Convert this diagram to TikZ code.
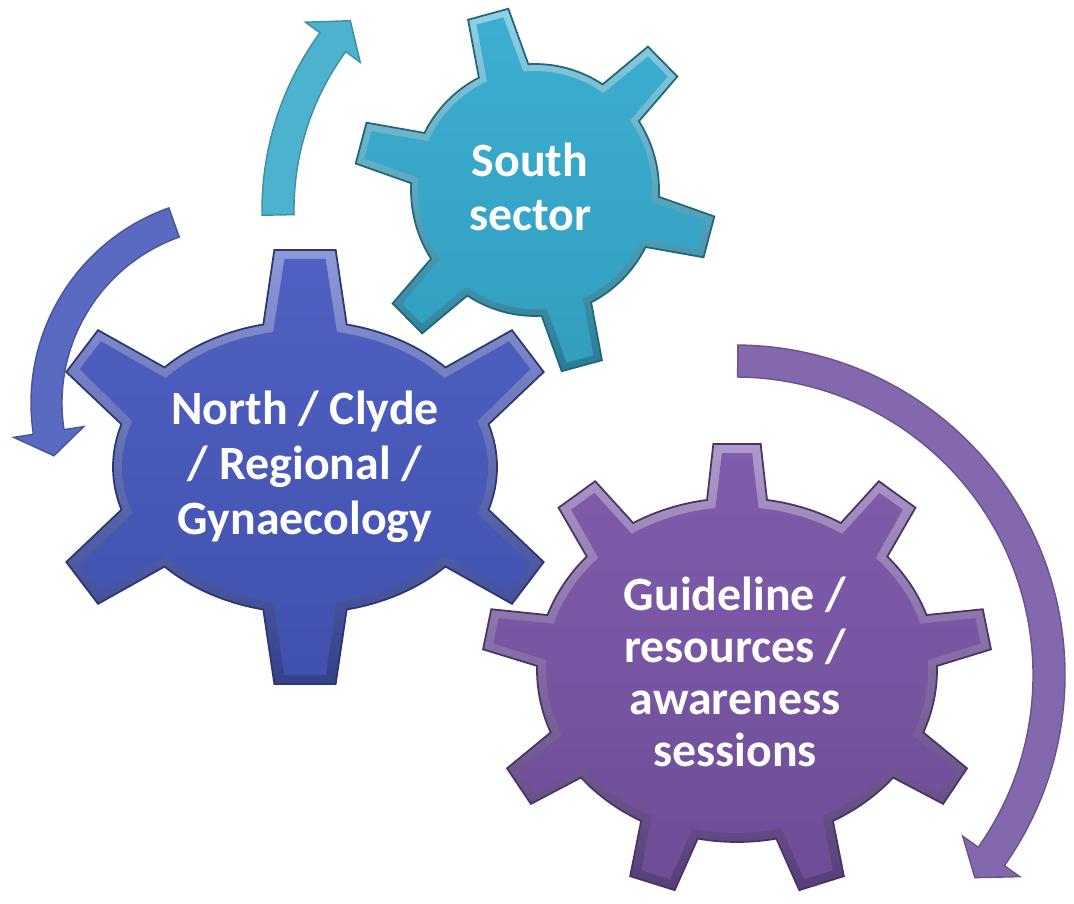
\documentclass[tikz,border=0pt]{standalone}
\usepackage{fontspec}
\setmainfont{Carlito}
\definecolor{bG}{RGB}{72,90,192}
\definecolor{bA}{RGB}{90,106,192}
\definecolor{tG}{RGB}{54,172,208}
\definecolor{tA}{RGB}{76,178,206}
\definecolor{pG}{RGB}{122,86,168}
\definecolor{pA}{RGB}{132,104,174}
% #1 cx #2 cy #3 rx #4 ry #5 n #6 a0 #7 L #8 wb #9 wt  -> \gpath
\newcommand\buildgear[9]{%
  \pgfmathsetmacro\gqA{#6}%
  \pgfmathsetmacro\gqN{veclen(#4*cos(\gqA),#3*sin(\gqA))}%
  \pgfmathsetmacro\gqUx{#4*cos(\gqA)/\gqN}%
  \pgfmathsetmacro\gqUy{#3*sin(\gqA)/\gqN}%
  \pgfmathsetmacro\gqF{veclen(#3*\gqUy,#4*\gqUx)/((#3+#4)/2)}%
  \pgfmathsetmacro\gqD{#8*\gqF/\gqN*180/pi}%
  \pgfmathsetmacro\gqS{\gqA-\gqD}%
  \pgfmathsetmacro\gqX{#1+#3*cos(\gqS)}%
  \pgfmathsetmacro\gqY{#2+#4*sin(\gqS)}%
  \xdef\gpath{(\gqX,\gqY)}%
  \foreach \gqk in {1,...,#5}{%
    \pgfmathsetmacro\gqph{#6+360/#5*(\gqk-1)}%
    \pgfmathsetmacro\gqphn{\gqph+360/#5}%
    \pgfmathsetmacro\gqbx{#3*cos(\gqph)}%
    \pgfmathsetmacro\gqby{#4*sin(\gqph)}%
    \pgfmathsetmacro\gqnn{veclen(#4*cos(\gqph),#3*sin(\gqph))}%
    \pgfmathsetmacro\gqux{#4*cos(\gqph)/\gqnn}%
    \pgfmathsetmacro\gquy{#3*sin(\gqph)/\gqnn}%
    \pgfmathsetmacro\gqf{veclen(#3*\gquy,#4*\gqux)/((#3+#4)/2)}%
    \pgfmathsetmacro\gqwb{#8*\gqf}%
    \pgfmathsetmacro\gqwt{#9*\gqf}%
    \pgfmathsetmacro\gqdl{\gqwb/\gqnn*180/pi}%
    \pgfmathsetmacro\gqnnn{veclen(#4*cos(\gqphn),#3*sin(\gqphn))}%
    \pgfmathsetmacro\gqunx{#4*cos(\gqphn)/\gqnnn}%
    \pgfmathsetmacro\gquny{#3*sin(\gqphn)/\gqnnn}%
    \pgfmathsetmacro\gqfn{veclen(#3*\gquny,#4*\gqunx)/((#3+#4)/2)}%
    \pgfmathsetmacro\gqdln{#8*\gqfn/\gqnnn*180/pi}%
    \pgfmathsetmacro\gqtax{#1+\gqbx+#7*\gqux+\gqwt*\gquy}%
    \pgfmathsetmacro\gqtay{#2+\gqby+#7*\gquy-\gqwt*\gqux}%
    \pgfmathsetmacro\gqtbx{#1+\gqbx+#7*\gqux-\gqwt*\gquy}%
    \pgfmathsetmacro\gqtby{#2+\gqby+#7*\gquy+\gqwt*\gqux}%
    \pgfmathsetmacro\gqsb{\gqph+\gqdl}%
    \pgfmathsetmacro\gqsn{\gqphn-\gqdln}%
    \pgfmathsetmacro\gqebx{#1+#3*cos(\gqsb)}%
    \pgfmathsetmacro\gqeby{#2+#4*sin(\gqsb)}%
    \xdef\gpath{\gpath -- (\gqtax,\gqtay) -- (\gqtbx,\gqtby) -- (\gqebx,\gqeby) arc[start angle=\gqsb, end angle=\gqsn, x radius=#3, y radius=#4]}%
  }%
  \xdef\gpath{\gpath -- cycle}%
}
\newcommand\fillgear[1]{\edef\gqtmp{\noexpand\path[#1] \gpath;}\gqtmp}
% #1 style #2 cx #3 cy #4 rin #5 rout #6 start #7 head base #8 tip #9 ext
\newcommand\circarrow[9]{%
  \begin{scope}[shift={(#2,#3)}]
  \pgfmathsetmacro\arm{(#4+#5)/2}%
  \pgfmathsetmacro\aro{#5+#9}%
  \pgfmathsetmacro\ari{#4-#9}%
  \path[#1] (#6:#5) arc[start angle=#6, end angle=#7, radius=#5] -- (#7:\aro) -- (#8:\arm) -- (#7:\ari) -- (#7:#4) arc[start angle=#7, end angle=#6, radius=#4] -- cycle;
  \end{scope}}
\tikzset{
  bluerim/.style={top color=bG!62!white, bottom color=bG!72!black, draw=bG!60!black, line width=0.5pt},
  blueface/.style={top color=bG!96!white, bottom color=bG!90!black},
  tealrim/.style={top color=tG!55!white, bottom color=tG!72!black, draw=tG!60!black, line width=0.5pt},
  tealface/.style={top color=tG!97!white, bottom color=tG!92!black},
  purprim/.style={top color=pG!60!white, bottom color=pG!72!black, draw=pG!60!black, line width=0.5pt},
  purpface/.style={top color=pG!96!white, bottom color=pG!90!black},
  bluearr/.style={fill=bA, draw=bA!80!black, line width=0.4pt},
  tealarr/.style={fill=tA, draw=tA!80!black, line width=0.4pt},
  purparr/.style={fill=pA, draw=pA!80!black, line width=0.4pt},
  txt/.style={text=white, align=center, inner sep=0pt, font=\bfseries\fontsize{13.6pt}{15.6pt}\selectfont}
}
\begin{document}
\begin{tikzpicture}[x=0.01cm,y=0.01cm]
\useasboundingbox (0,0) rectangle (1074,903);
% arrows
\circarrow{bluearr}{238}{500}{176}{207}{109.5}{188.7}{196}{20}
\circarrow{tealarr}{562}{693}{268}{300}{181}{143.8}{138.2}{18}
\circarrow{purparr}{735}{228}{298}{330}{89.5}{-35.3}{-40.2}{19}
% blue gear
\buildgear{305}{436}{192}{146}{6}{90}{71}{37}{27}\fillgear{bluerim}
\buildgear{305}{436}{183}{137}{6}{90}{71}{28}{18}\fillgear{blueface}
% teal gear
\buildgear{535}{713}{124}{126}{6}{105}{56}{26}{21}\fillgear{tealrim}
\buildgear{535}{713}{117}{119}{6}{105}{56}{19}{14}\fillgear{tealface}
% purple gear
\buildgear{737}{233}{200}{172}{9}{90}{54}{28}{22}\fillgear{purprim}
\buildgear{737}{233}{191}{163}{9}{90}{54}{20}{14}\fillgear{purpface}
% texts
\node[txt] (north) at (305,436) {North / Clyde\\/ Regional /\\Gynaecology};
\node[txt, font=\bfseries\fontsize{13.6pt}{15.3pt}\selectfont] (south) at (530,716) {South\\sector};
\node[txt, font=\bfseries\fontsize{13.6pt}{14.8pt}\selectfont] (guide) at (735,231) {Guideline /\\resources /\\awareness\\sessions};
\end{tikzpicture}
\end{document}
